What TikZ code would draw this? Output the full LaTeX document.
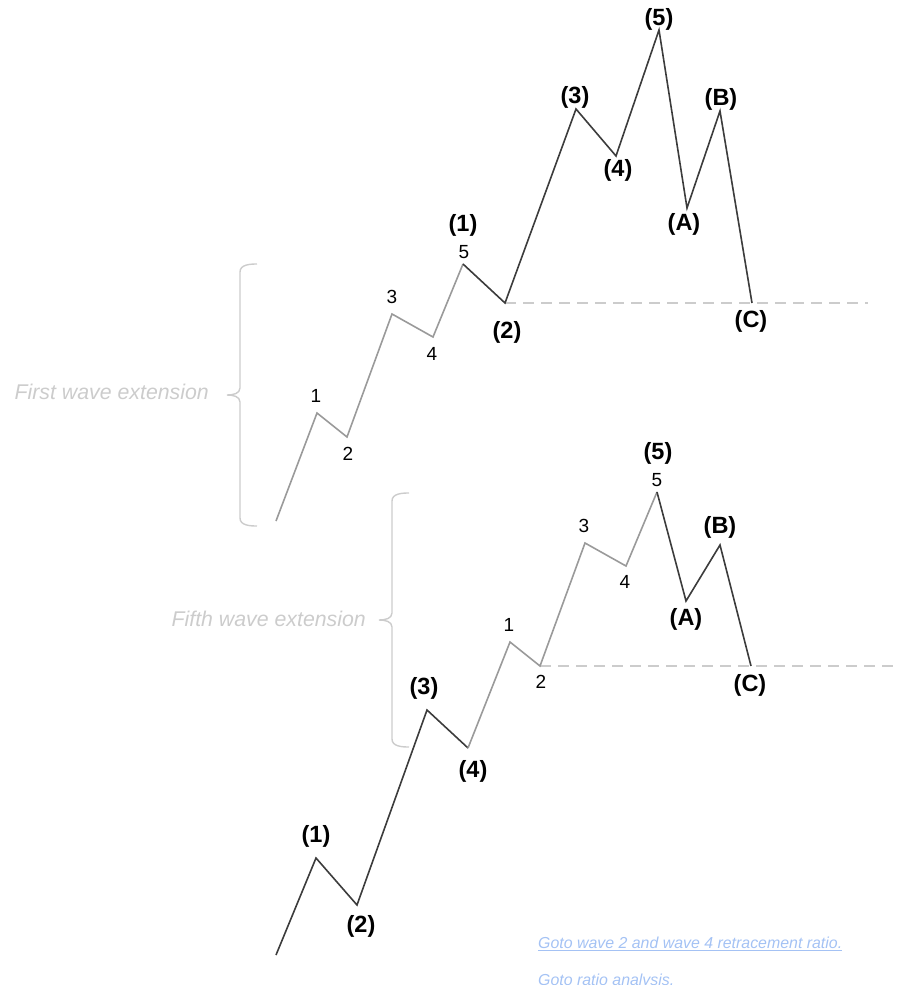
\documentclass[tikz,border=0pt]{standalone}
\usepackage{fontspec}
\setmainfont{Liberation Sans}
\definecolor{wavegrey}{HTML}{9A9A9A}
\definecolor{wavedark}{HTML}{3C3C3C}
\definecolor{lightgrey}{HTML}{CCCCCC}
\definecolor{linkblue}{HTML}{A4C2F4}
\begin{document}
\begin{tikzpicture}[x=1pt,y=-1pt,
  wgrey/.style={draw=wavegrey, line width=1.6pt},
  wdark/.style={draw=wavedark, line width=1.6pt},
  big/.style={font=\fontsize{23.5}{26}\selectfont\bfseries, inner sep=0pt, text=black},
  small/.style={font=\fontsize{19}{22}\selectfont, inner sep=0pt, text=black},
  extlabel/.style={font=\fontsize{21.3}{25}\selectfont\itshape, text=lightgrey, inner sep=0pt, anchor=base east},
  bracestyle/.style={draw=lightgrey, line width=1.4pt},
  dashline/.style={draw=lightgrey, line width=1.6pt, dash pattern=on 11pt off 7pt},
  linkstyle/.style={font=\fontsize{15.9}{18}\selectfont\itshape, text=linkblue, inner sep=0pt, anchor=base west}]
\useasboundingbox (0,0) rectangle (905,985);

% ---------- top: first wave extension ----------
\coordinate (t0) at (276,521);
\coordinate (t1) at (317,413);
\coordinate (t2) at (347,437);
\coordinate (t3) at (392,314);
\coordinate (t4) at (433,337);
\coordinate (t5) at (463,264);
\coordinate (tW2) at (505,303);
\coordinate (tW3) at (576,109);
\coordinate (tW4) at (616,156);
\coordinate (tW5) at (659,30);
\coordinate (tA) at (687,208);
\coordinate (tB) at (720,111);
\coordinate (tC) at (752,303);
\coordinate (tD) at (868,303);

\draw[dashline] (tW2) -- (tD);
\draw[wgrey] (t0) -- (t1) -- (t2) -- (t3) -- (t4) -- (t5);
\draw[wdark] (t5) -- (tW2) -- (tW3) -- (tW4) -- (tW5) -- (tA) -- (tB) -- (tC);

\node[small] (lt1) at (316,396) {1};
\node[small] (lt2) at (348,454) {2};
\node[small] (lt3) at (392,297) {3};
\node[small] (lt4) at (432,354) {4};
\node[small] (lt5) at (464,252) {5};
\node[big] (ltW1) at (463,225) {(1)};
\node[big] (ltW2) at (507,332) {(2)};
\node[big] (ltW3) at (575,97) {(3)};
\node[big] (ltW4) at (618,170) {(4)};
\node[big] (ltW5) at (659,19) {(5)};
\node[big] (ltA) at (684,224) {(A)};
\node[big] (ltB) at (721,99) {(B)};
\node[big] (ltC) at (751,321) {(C)};

\draw[bracestyle] (257,264) to[out=180,in=90] (240,272) -- (240,388)
  to[out=-90,in=0] (227,395) to[out=0,in=90] (240,402) -- (240,518)
  to[out=-90,in=180] (257,526);
\node[extlabel] (ext1) at (209,399) {First wave extension};

% ---------- bottom: fifth wave extension ----------
\coordinate (b0) at (276,955);
\coordinate (bW1) at (316,858);
\coordinate (bW2) at (357,905);
\coordinate (bW3) at (427,710);
\coordinate (bW4) at (468,748);
\coordinate (b1) at (510,642);
\coordinate (b2) at (540,666);
\coordinate (b3) at (585,543);
\coordinate (b4) at (626,566);
\coordinate (b5) at (657,492);
\coordinate (bA) at (686,601);
\coordinate (bB) at (720,545);
\coordinate (bC) at (751,666);
\coordinate (bD) at (900,666);

\draw[dashline] (b2) -- (bD);
\draw[wdark] (b0) -- (bW1) -- (bW2) -- (bW3) -- (bW4);
\draw[wgrey] (bW4) -- (b1) -- (b2) -- (b3) -- (b4) -- (b5);
\draw[wdark] (b5) -- (bA) -- (bB) -- (bC);

\node[big] (lbW1) at (316,836) {(1)};
\node[big] (lbW2) at (361,926) {(2)};
\node[big] (lbW3) at (424,688) {(3)};
\node[big] (lbW4) at (473,771) {(4)};
\node[small] (lb1) at (509,625) {1};
\node[small] (lb2) at (541,682) {2};
\node[small] (lb3) at (584,526) {3};
\node[small] (lb4) at (625,582) {4};
\node[small] (lb5) at (657,480) {5};
\node[big] (lbW5) at (658,453) {(5)};
\node[big] (lbA) at (686,619) {(A)};
\node[big] (lbB) at (720,527) {(B)};
\node[big] (lbC) at (750,685) {(C)};

\draw[bracestyle] (409,493) to[out=180,in=90] (392,501) -- (392,613)
  to[out=-90,in=0] (379,620) to[out=0,in=90] (392,627) -- (392,739)
  to[out=-90,in=180] (409,747);
\node[extlabel] (ext2) at (366,626) {Fifth wave extension};

% ---------- links ----------
\node[linkstyle] (link1) at (538,948) {Goto wave 2 and wave 4 retracement ratio.};
\draw[draw=linkblue, line width=1.1pt] ([yshift=-2.5pt]link1.base west) -- ([yshift=-2.5pt]link1.base east);
\node[linkstyle] (link2) at (538,985) {Goto ratio analysis.};
\end{tikzpicture}
\end{document}
